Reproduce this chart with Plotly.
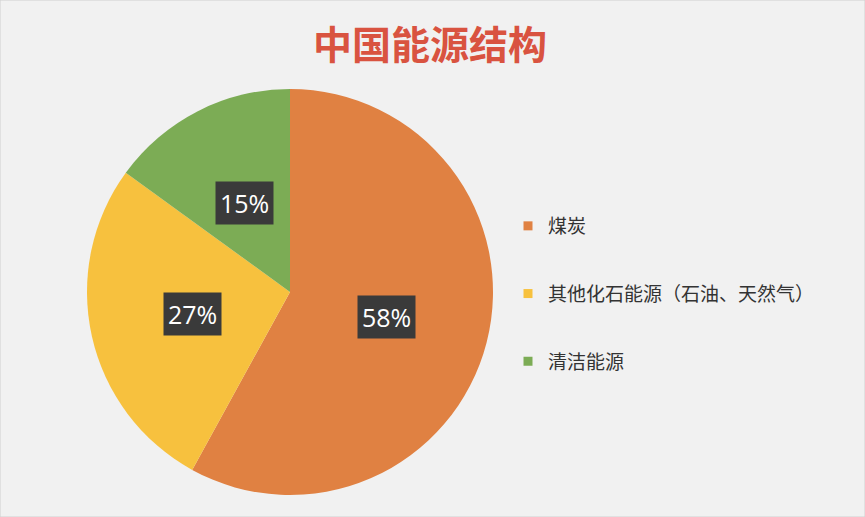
import math
import plotly.graph_objects as go

# ---- data ----
categories = ["煤炭", "其他化石能源（石油、天然气）", "清洁能源"]
values = [58, 27, 15]
colors = ["#E08142", "#F7C13E", "#7CAC55"]
title_text = "中国能源结构"

W, H = 865, 517
CX, CY, R = 290, 292, 203  # pie centre / radius in pixels

fig = go.Figure()
fig.add_trace(go.Pie(
    labels=categories, values=values, sort=False, direction="clockwise", rotation=0,
    marker=dict(colors=colors, line=dict(width=0)),
    textinfo="none", hoverinfo="label+percent", showlegend=False,
    domain=dict(x=[(CX - R) / W, (CX + R) / W], y=[(H - CY - R) / H, (H - CY + R) / H]),
))

# legend entries (one group each, so they can be spaced like the reference)
for i, (c, col) in enumerate(zip(categories, colors)):
    fig.add_trace(go.Scatter(
        x=[None], y=[None], mode="markers", name=c, legendgroup=f"g{i}",
        marker=dict(symbol="square", size=9, color=col), showlegend=True,
    ))

# percentage labels in dark boxes, placed at the middle angle of each slice
total = sum(values)
cum = 0
annotations = []
for v in values:
    mid = (cum + v / 2) / total * 2 * math.pi
    cum += v
    d = 0.49 * R
    px = CX + d * math.sin(mid)
    py = CY - d * math.cos(mid)
    annotations.append(dict(
        x=px / W, y=1 - py / H, xref="paper", yref="paper",
        text=f"{round(v / total * 100)}%", showarrow=False,
        font=dict(family="Open Sans, Noto Sans, sans-serif", size=25, color="white"),
        bgcolor="#3A3A3A", borderpad=4, xanchor="center", yanchor="middle",
    ))

fig.update_layout(
    width=W, height=H,
    margin=dict(l=0, r=0, t=0, b=0),
    paper_bgcolor="#F1F1F1", plot_bgcolor="rgba(0,0,0,0)",
    xaxis=dict(visible=False), yaxis=dict(visible=False),
    title=dict(text=f"<b>{title_text}</b>", x=430 / W, xanchor="center", y=1 - 45 / H, yanchor="middle",
               font=dict(family="Noto Sans CJK SC", size=39, color="#D95340")),
    legend=dict(x=508 / W, y=1 - 207 / H, xanchor="left", yanchor="top",
                font=dict(family="Noto Sans CJK SC", size=19, color="#333333"),
                tracegroupgap=40, itemwidth=30, bgcolor="rgba(0,0,0,0)"),
    annotations=annotations,
    shapes=[dict(type="rect", xref="paper", yref="paper", x0=0, y0=0, x1=1, y1=1,
                 line=dict(color="#D0D0D0", width=1))],
)

fig.write_html("out.html", config={"displayModeBar": False},
               post_script="document.body.style.margin='0';document.body.style.background='#F1F1F1';")
